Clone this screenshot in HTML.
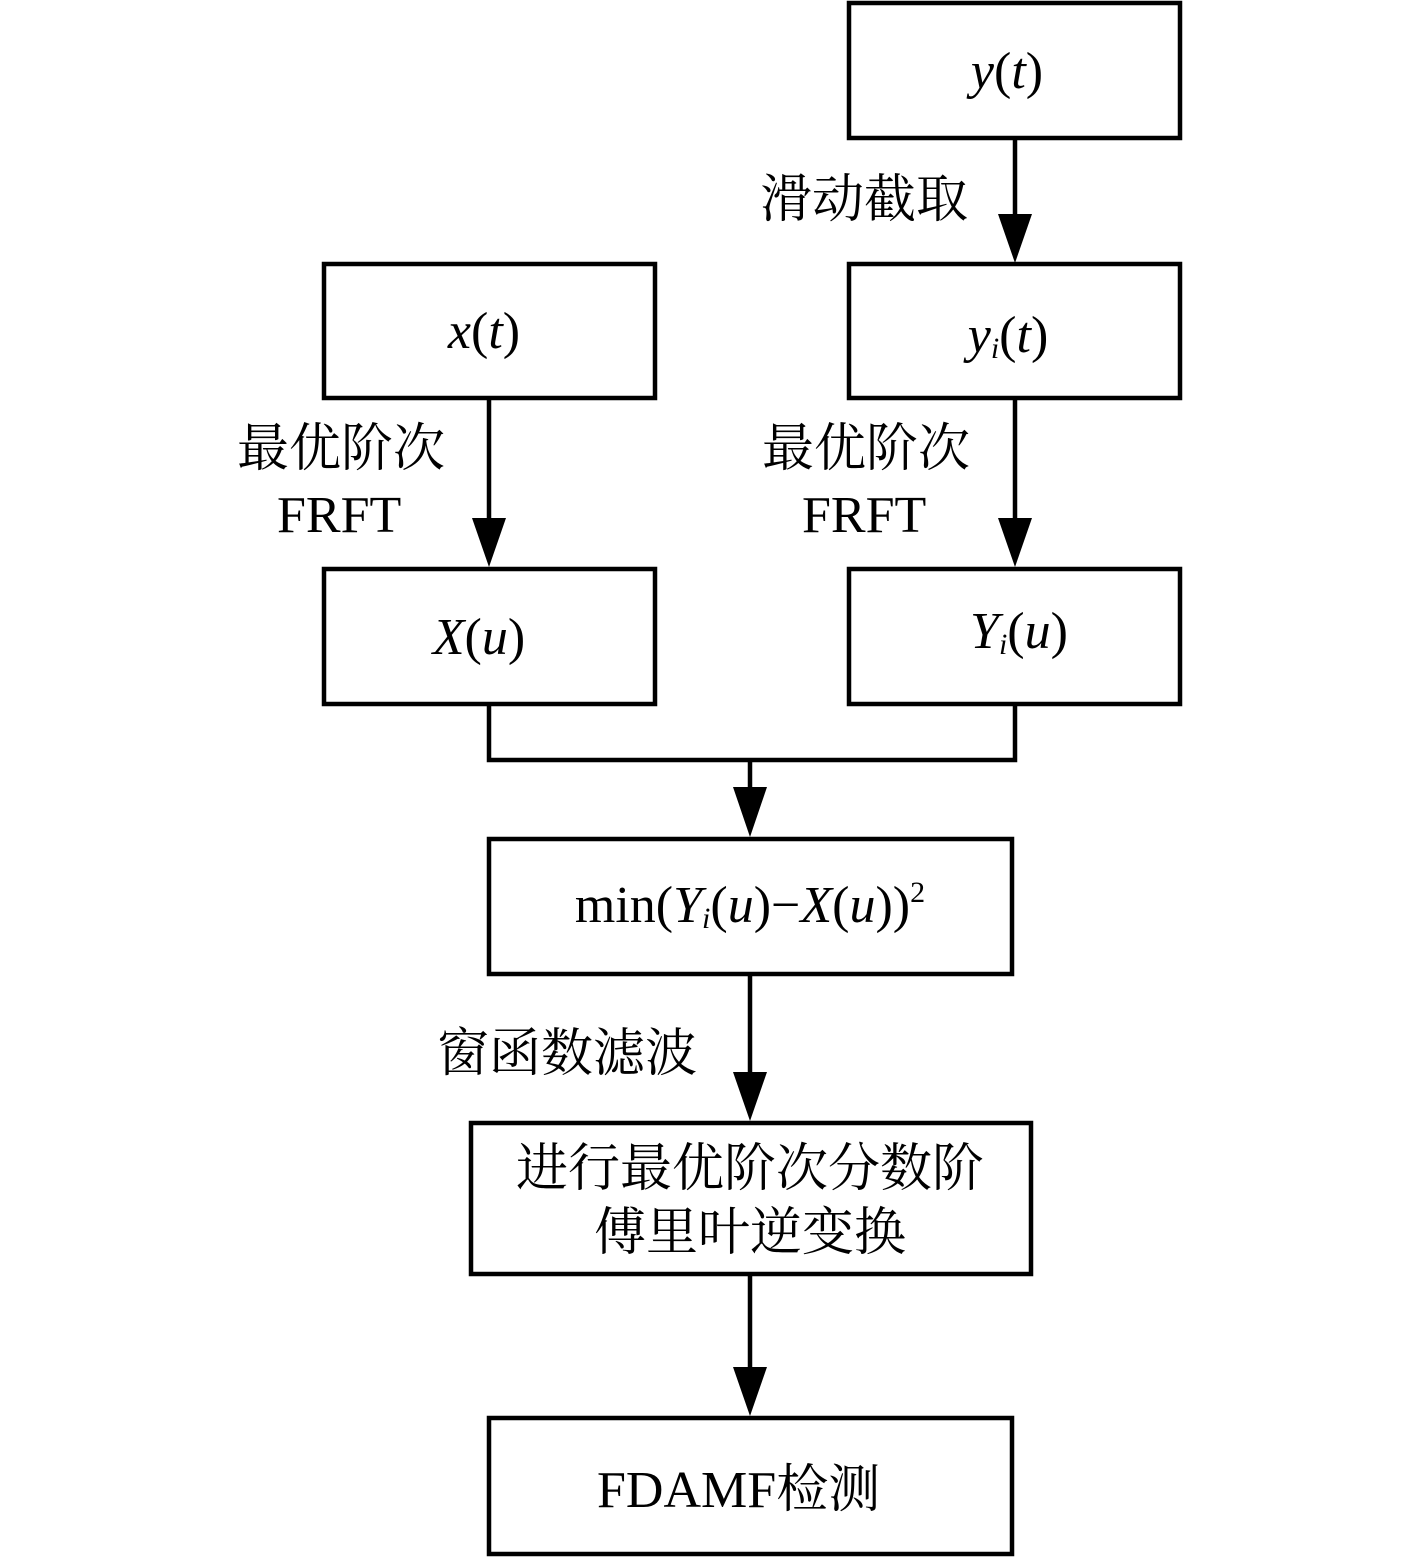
<!DOCTYPE html>
<html><head><meta charset="utf-8"><style>
html,body{margin:0;padding:0;background:#fff;}
svg{display:block;}
text{font-family:"Liberation Serif","Noto Serif CJK SC",serif;fill:#000;}
.cjk{font-family:"Liberation Serif","Noto Serif CJK SC","Noto Sans CJK SC",serif;}
</style></head><body>
<svg width="1417" height="1559" viewBox="0 0 1417 1559" xmlns="http://www.w3.org/2000/svg">
<g fill="none" stroke="#000" stroke-width="4.5">
<rect x="849" y="3" width="331" height="135"/>
<rect x="324" y="264" width="331" height="134"/>
<rect x="849" y="264" width="331" height="134"/>
<rect x="324" y="569" width="331" height="135"/>
<rect x="849" y="569" width="331" height="135"/>
<rect x="489" y="839" width="523" height="135"/>
<rect x="471" y="1123" width="560" height="151"/>
<rect x="489" y="1418" width="523" height="136"/>
<line x1="1015" y1="138" x2="1015" y2="220"/>
<line x1="489" y1="398" x2="489" y2="520"/>
<line x1="1015" y1="398" x2="1015" y2="520"/>
<polyline points="489,704 489,760 1015,760 1015,704"/>
<line x1="750" y1="760" x2="750" y2="790"/>
<line x1="750" y1="974" x2="750" y2="1075"/>
<line x1="750" y1="1274" x2="750" y2="1370"/>
</g>
<g fill="#000">
<polygon points="998,214 1032,214 1015,263"/>
<polygon points="472,518 506,518 489,567"/>
<polygon points="998,518 1032,518 1015,567"/>
<polygon points="733,787 767,787 750,837"/>
<polygon points="733,1072 767,1072 750,1121"/>
<polygon points="733,1367 767,1367 750,1416"/>
</g>
<g font-size="52">
<text x="1007" y="88" text-anchor="middle"><tspan font-style="italic">y</tspan>(<tspan font-style="italic">t</tspan>)</text>
<text x="484" y="348" text-anchor="middle"><tspan font-style="italic">x</tspan>(<tspan font-style="italic">t</tspan>)</text>
<text x="1008" y="352" text-anchor="middle"><tspan font-style="italic">y</tspan><tspan font-style="italic" font-size="30" dy="6">i</tspan><tspan dy="-6">(</tspan><tspan font-style="italic">t</tspan>)</text>
<text x="479" y="654" text-anchor="middle"><tspan font-style="italic">X</tspan>(<tspan font-style="italic">u</tspan>)</text>
<text x="1019" y="648" text-anchor="middle"><tspan font-style="italic">Y</tspan><tspan font-style="italic" font-size="30" dy="6">i</tspan><tspan dy="-6">(</tspan><tspan font-style="italic">u</tspan>)</text>
<text x="750" y="922" text-anchor="middle">min(<tspan font-style="italic">Y</tspan><tspan font-style="italic" font-size="30" dy="6">i</tspan><tspan dy="-6">(</tspan><tspan font-style="italic">u</tspan>)−<tspan font-style="italic">X</tspan>(<tspan font-style="italic">u</tspan>))<tspan font-size="30" dy="-20">2</tspan></text>
<text x="277" y="532">FRFT</text>
<text x="802" y="532">FRFT</text>
<text x="597" y="1507">FDAMF<tspan class="cjk">检测</tspan></text>
</g>
<g font-size="52" class="cjk">
<text x="760" y="217">滑动截取</text>
<text x="237" y="466">最优阶次</text>
<text x="762" y="466">最优阶次</text>
<text x="437" y="1071">窗函数滤波</text>
<text x="750" y="1186" text-anchor="middle">进行最优阶次分数阶</text>
<text x="750" y="1250" text-anchor="middle">傅里叶逆变换</text>
</g>
</svg>
</body></html>
